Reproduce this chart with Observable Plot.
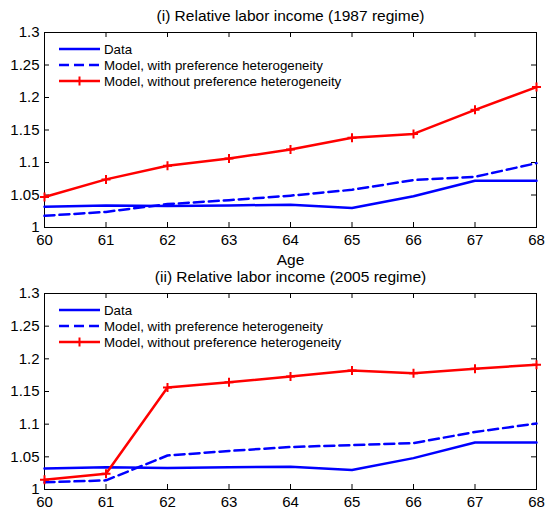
<!DOCTYPE html>
<html><head><meta charset="utf-8">
<script src="https://cdn.jsdelivr.net/npm/d3@7"></script>
<script src="https://cdn.jsdelivr.net/npm/@observablehq/plot@0.6"></script>
<style>
body{margin:0;background:#fff;}
#wrap{position:relative;width:545px;height:515px;background:#fff;}
#wrap svg{display:block;}
</style></head><body><div id="wrap"></div>
<script>
const ages = [60, 61, 62, 63, 64, 65, 66, 67, 68];
const yTicks = [1, 1.05, 1.1, 1.15, 1.2, 1.25, 1.3];
const seriesNames = ["Data", "Model, with preference heterogeneity", "Model, without preference heterogeneity"];
const titles = ["(i) Relative labor income (1987 regime)", "(ii) Relative labor income (2005 regime)"];

// Panel (i) 1987 regime
const data1987     = [1.032, 1.034, 1.033, 1.034, 1.035, 1.030, 1.048, 1.072, 1.072];
const withHet1987  = [1.018, 1.024, 1.036, 1.042, 1.049, 1.058, 1.073, 1.078, 1.099];
const noHet1987    = [1.047, 1.074, 1.095, 1.106, 1.120, 1.138, 1.144, 1.181, 1.216];
// Panel (ii) 2005 regime
const data2005     = [1.032, 1.034, 1.033, 1.034, 1.035, 1.030, 1.048, 1.072, 1.072];
const withHet2005  = [1.011, 1.014, 1.052, 1.059, 1.065, 1.068, 1.071, 1.088, 1.101];
const noHet2005    = [1.015, 1.024, 1.156, 1.164, 1.173, 1.182, 1.178, 1.185, 1.191];

const BLUE = "#0000ff", RED = "#ff0000";
const FONT = "Liberation Sans, Arial, Helvetica, sans-serif";

const cross = {
  draw(ctx, size) {
    const r = Math.sqrt(size / Math.PI);
    ctx.moveTo(-r, 0); ctx.lineTo(r, 0);
    ctx.moveTo(0, -r); ctx.lineTo(0, r);
  }
};

function panel(title, dArr, wArr, nArr, height, marginTop, marginBottom, ageLabel) {
  const W = 545, mL = 44, mR = 9;
  const plotW = W - mL - mR, plotH = height - marginTop - marginBottom;
  const rows = (arr) => ages.map((a, i) => ({age: a, v: arr[i]}));
  const marks = [
    Plot.frame({stroke: "black", strokeWidth: 1}),
    Plot.tickX(ages, {x: d => d, insetTop: plotH - 5, stroke: "black"}),
    Plot.tickX(ages, {x: d => d, insetBottom: plotH - 5, stroke: "black"}),
    Plot.tickY(yTicks, {y: d => d, insetRight: plotW - 5, stroke: "black"}),
    Plot.tickY(yTicks, {y: d => d, insetLeft: plotW - 5, stroke: "black"}),
    Plot.axisX(ages, {tickSize: 0, tickPadding: 7, tickFormat: d => String(d), label: null, fontSize: 15}),
    Plot.axisY(yTicks, {tickSize: 0, tickPadding: 5, tickFormat: d => String(d), label: null, fontSize: 15}),
    Plot.line(rows(dArr), {x: "age", y: "v", stroke: BLUE, strokeWidth: 2.5}),
    Plot.line(rows(wArr), {x: "age", y: "v", stroke: BLUE, strokeWidth: 2.5, strokeDasharray: "10,5"}),
    Plot.line(rows(nArr), {x: "age", y: "v", stroke: RED, strokeWidth: 2.5}),
    Plot.dot(rows(nArr), {x: "age", y: "v", symbol: cross, r: 4.5, stroke: RED, strokeWidth: 2, fill: "none"}),
    Plot.text([title], {frameAnchor: "top", dy: -16, lineAnchor: "middle", fontSize: 15.5, fill: "black"})
  ];
  if (ageLabel) marks.push(Plot.text(["Age"], {frameAnchor: "bottom", dy: 33, lineAnchor: "middle", fontSize: 15.5, fill: "black"}));
  const svg = Plot.plot({
    width: W, height, marginLeft: mL, marginRight: mR, marginTop, marginBottom,
    style: {fontFamily: FONT, background: "white", color: "black", overflow: "visible"},
    x: {domain: [60, 68]},
    y: {domain: [1, 1.3]},
    marks
  });
  // legend
  const g = d3.select(svg).append("g").attr("font-family", FONT).attr("font-size", 13.3).attr("text-anchor", "start");
  const x0 = mL + 15, x1 = mL + 56, dy0 = marginTop + 17, step = 16;
  const styles = [
    {stroke: BLUE, dash: null, mark: false},
    {stroke: BLUE, dash: "10,5", mark: false},
    {stroke: RED, dash: null, mark: true}
  ];
  seriesNames.forEach((name, i) => {
    const y = dy0 + i * step;
    const s = styles[i];
    const ln = g.append("line").attr("x1", x0).attr("x2", x1).attr("y1", y).attr("y2", y)
      .attr("stroke", s.stroke).attr("stroke-width", 2.5);
    if (s.dash) ln.attr("stroke-dasharray", s.dash);
    if (s.mark) {
      const cx = (x0 + x1) / 2;
      g.append("path").attr("d", `M${cx-4.5},${y}H${cx+4.5}M${cx},${y-4.5}V${y+4.5}`)
        .attr("stroke", RED).attr("stroke-width", 2).attr("fill", "none");
    }
    g.append("text").attr("x", x1 + 4).attr("y", y).attr("dy", "0.35em").attr("text-anchor", "start")
      .attr("fill", "black").text(name);
  });
  return svg;
}

const wrap = document.getElementById("wrap");
wrap.appendChild(panel(titles[0], data1987, withHet1987, noHet1987, 263, 32, 36, true));
wrap.appendChild(panel(titles[1], data2005, withHet2005, noHet2005, 252, 30, 26, false));
</script>
</body></html>
